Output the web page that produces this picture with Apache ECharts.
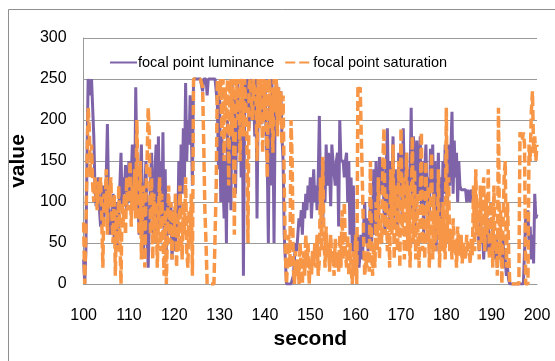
<!DOCTYPE html>
<html>
<head>
<meta charset="utf-8">
<script src="https://cdn.jsdelivr.net/npm/echarts@6/dist/echarts.min.js"></script>
<style>
  html, body { margin: 0; padding: 0; background: #ffffff; }
  #chart { width: 555px; height: 361px; }
</style>
</head>
<body>
<div id="chart"></div>
<script>
// Sampling of the recording: one reading every quarter second from 100 s to 200 s
const startSecond = 100;
const sampleStep = 0.25;

const seriesNames = ['focal point luminance', 'focal point saturation'];
const xTicks = [100, 110, 120, 130, 140, 150, 160, 170, 180, 190, 200];
const yTicks = [0, 50, 100, 150, 200, 250, 300];

// focal point luminance, four readings per second
const luminance = [
  30, 0, 40, 150,      // 100
  250, 250, 230, 250,  // 101
  250, 180, 120, 95,   // 102
  110, 130, 90, 70,    // 103
  100, 120, 80, 105,   // 104
  130, 195, 110, 60,   // 105
  90, 70, 110, 50,     // 106
  100, 60, 40, 85,     // 107
  120, 160, 95, 130,   // 108
  110, 145, 90, 120,   // 109
  150, 100, 130, 170,  // 110
  120, 90, 240, 150,   // 111
  100, 60, 130, 170,   // 112
  80, 40, 110, 150,    // 113
  60, 20, 80, 120,     // 114
  160, 90, 50, 140,    // 115
  170, 60, 180, 100,   // 116
  150, 70, 185, 60,    // 117
  140, 40, 110, 80,    // 118
  60, 100, 30, 70,     // 119
  90, 40, 110, 60,     // 120
  150, 80, 170, 110,   // 121
  190, 130, 245, 150,  // 122
  200, 170, 230, 190,  // 123
  120, 250, 250, 250,  // 124
  250, 250, 250, 250,  // 125
  250, 235, 250, 250,  // 126
  250, 230, 250, 250,  // 127
  250, 250, 250, 250,  // 128
  250, 250, 220, 140,  // 129
  230, 100, 180, 120,  // 130
  80, 150, 50, 200,    // 131
  100, 170, 90, 250,   // 132
  150, 230, 110, 190,  // 133
  250, 160, 220, 130,  // 134
  240, 10, 200, 250,   // 135
  220, 250, 190, 240,  // 136
  250, 200, 230, 180,  // 137
  250, 80, 220, 200,   // 138
  250, 195, 240, 210,  // 139
  250, 180, 150, 50,   // 140
  230, 120, 250, 200,  // 141
  50, 210, 250, 230,   // 142
  240, 200, 235, 180,  // 143
  150, 60, 30, 0,      // 144
  0, 0, 0, 0,          // 145
  0, 10, 30, 50,       // 146
  40, 60, 80, 70,      // 147
  90, 60, 100, 80,     // 148
  110, 90, 120, 100,   // 149
  130, 80, 110, 140,   // 150
  100, 120, 90, 130,   // 151
  205, 110, 140, 70,   // 152
  150, 100, 170, 120,  // 153
  160, 140, 95, 170,   // 154
  150, 150, 120, 150,  // 155
  160, 70, 200, 150,   // 156
  150, 150, 130, 150,  // 157
  160, 100, 150, 60,   // 158
  130, 40, 120, 20,    // 159
  50, 30, 60, 20,      // 160
  40, 60, 30, 70,      // 161
  100, 50, 80, 40,     // 162
  60, 100, 50, 80,     // 163
  140, 60, 150, 100,   // 164
  70, 155, 110, 130,   // 165
  150, 90, 60, 140,    // 166
  190, 110, 70, 150,   // 167
  120, 180, 80, 140,   // 168
  100, 60, 160, 120,   // 169
  170, 80, 190, 130,   // 170
  100, 160, 60, 140,   // 171
  120, 215, 90, 180,   // 172
  150, 70, 175, 110,   // 173
  130, 180, 90, 150,   // 174
  60, 140, 170, 100,   // 175
  130, 80, 165, 120,   // 176
  170, 90, 150, 40,    // 177
  110, 160, 80, 130,   // 178
  60, 150, 110, 170,   // 179
  140, 90, 170, 120,   // 180
  160, 210, 110, 175,  // 181
  130, 160, 100, 150,  // 182
  120, 115, 115, 115,  // 183
  115, 115, 100, 115,  // 184
  115, 100, 115, 110,  // 185
  100, 90, 95, 60,     // 186
  70, 40, 80, 50,      // 187
  60, 30, 70, 40,      // 188
  50, 80, 35, 60,      // 189
  40, 70, 30, 50,      // 190
  60, 20, 45, 30,      // 191
  50, 25, 60, 20,      // 192
  30, 10, 20, 5,       // 193
  0, 0, 0, 0,          // 194
  0, 0, 0, 0,          // 195
  0, 0, 0, 0,          // 196
  0, 40, 80, 60,       // 197
  90, 50, 70, 30,      // 198
  60, 25, 110, 80,     // 199
  85                   // 200
];

// focal point saturation, four readings per second
const saturation = [
  75, 0, 60, 150,      // 100
  215, 190, 130, 170,  // 101
  120, 100, 130, 110,  // 102
  90, 125, 110, 130,   // 103
  80, 20, 110, 90,     // 104
  140, 60, 120, 100,   // 105
  130, 80, 50, 110,    // 106
  10, 90, 40, 120,     // 107
  60, 0, 100, 70,      // 108
  110, 60, 130, 90,    // 109
  100, 150, 70, 120,   // 110
  90, 140, 80, 200,    // 111
  110, 60, 150, 30,    // 112
  90, 120, 20, 110,    // 113
  150, 215, 180, 60,   // 114
  130, 30, 110, 50,    // 115
  100, 20, 80, 130,    // 116
  40, 110, 60, 10,     // 117
  90, 0, 70, 120,      // 118
  50, 100, 30, 90,     // 119
  60, 110, 20, 80,     // 120
  40, 120, 70, 30,     // 121
  100, 60, 130, 40,    // 122
  20, 90, 50, 110,     // 123
  10, 250, 250, 250,   // 124
  250, 250, 250, 250,  // 125
  250, 240, 170, 90,   // 126
  50, 0, 0, 0,         // 127
  0, 0, 0, 0,          // 128
  0, 120, 250, 250,    // 129
  230, 250, 180, 250,  // 130
  150, 240, 200, 250,  // 131
  120, 230, 250, 180,  // 132
  250, 60, 220, 250,   // 133
  200, 250, 150, 240,  // 134
  250, 180, 250, 220,  // 135
  190, 50, 240, 250,   // 136
  250, 200, 250, 230,  // 137
  240, 150, 250, 190,  // 138
  250, 220, 160, 250,  // 139
  200, 250, 130, 240,  // 140
  250, 190, 240, 160,  // 141
  250, 210, 250, 180,  // 142
  240, 200, 235, 170,  // 143
  230, 120, 40, 0,     // 144
  0, 60, 20, 200,      // 145
  150, 20, 0, 40,      // 146
  10, 30, 0, 50,       // 147
  20, 0, 40, 10,       // 148
  60, 20, 50, 0,       // 149
  30, 10, 40, 20,      // 150
  50, 20, 60, 10,      // 151
  30, 130, 40, 155,    // 152
  60, 20, 70, 30,      // 153
  50, 15, 60, 25,      // 154
  40, 10, 55, 20,      // 155
  35, 15, 60, 20,      // 156
  90, 30, 100, 40,     // 157
  20, 60, 10, 50,      // 158
  20, 0, 40, 10,       // 159
  60, 0, 240, 235,     // 160
  240, 180, 120, 60,   // 161
  10, 30, 20, 50,      // 162
  15, 150, 40, 10,     // 163
  50, 20, 100, 40,     // 164
  130, 30, 80, 50,     // 165
  150, 190, 60, 110,   // 166
  40, 90, 20, 140,     // 167
  60, 170, 30, 120,    // 168
  80, 40, 150, 20,     // 169
  190, 60, 130, 30,    // 170
  100, 160, 40, 120,   // 171
  20, 80, 180, 50,     // 172
  140, 30, 110, 60,    // 173
  20, 100, 185, 40,    // 174
  90, 30, 150, 50,     // 175
  120, 20, 80, 160,    // 176
  30, 110, 40, 90,     // 177
  60, 140, 20, 80,     // 178
  40, 100, 60, 30,     // 179
  215, 50, 130, 40,    // 180
  60, 30, 80, 45,      // 181
  50, 20, 70, 40,      // 182
  35, 60, 25, 50,      // 183
  45, 30, 60, 40,      // 184
  50, 25, 55, 35,      // 185
  120, 40, 140, 60,    // 186
  100, 30, 120, 50,    // 187
  90, 130, 40, 110,    // 188
  60, 140, 30, 100,    // 189
  80, 20, 120, 40,     // 190
  60, 10, 215, 30,     // 191
  90, 0, 70, 130,      // 192
  150, 20, 100, 40,    // 193
  0, 0, 0, 0,          // 194
  0, 0, 0, 0,          // 195
  0, 185, 180, 175,    // 196
  185, 170, 0, 0,      // 197
  0, 170, 150, 210,    // 198
  235, 160, 180, 150,  // 199
  170                  // 200
];

const colors = ['#7f63a8', '#f79646'];
const fontFamily = '"Liberation Sans", Arial, sans-serif';

function pairs(values) {
  return values.map((v, i) => [startSecond + i * sampleStep, v]);
}

const chart = echarts.init(document.getElementById('chart'), null, { renderer: 'canvas' });

chart.setOption({
  animation: false,
  backgroundColor: '#ffffff',
  color: colors,
  graphic: [{
    type: 'rect',
    silent: true,
    z: -10,
    shape: { x: 8.5, y: 9.5, width: 600, height: 400 },
    style: { fill: 'none', stroke: '#8f8f8f', lineWidth: 1 }
  }],
  legend: {
    left: 104,
    top: 50,
    itemWidth: 27,
    itemHeight: 14,
    itemGap: 10,
    data: seriesNames,
    itemStyle: { opacity: 0 },
    textStyle: { fontFamily: fontFamily, fontSize: 14.5, color: '#000000', padding: [0, 0, 0, -4] }
  },
  grid: { left: 77, right: 18, top: 38, bottom: 77, containLabel: false },
  xAxis: {
    type: 'value',
    min: xTicks[0],
    max: xTicks[xTicks.length - 1],
    interval: xTicks[1] - xTicks[0],
    name: 'second',
    nameLocation: 'middle',
    nameGap: 45,
    nameTextStyle: { fontFamily: fontFamily, fontSize: 21, fontWeight: 'bold', color: '#000000' },
    axisLine: { show: true, lineStyle: { color: '#9a9a9a', width: 1 } },
    axisTick: { show: false },
    splitLine: { show: false },
    axisLabel: { fontFamily: fontFamily, fontSize: 16, color: '#000000', margin: 24 }
  },
  yAxis: {
    type: 'value',
    min: yTicks[0],
    max: yTicks[yTicks.length - 1],
    interval: yTicks[1] - yTicks[0],
    name: 'value',
    nameLocation: 'middle',
    nameGap: 46,
    nameRotate: 90,
    nameTextStyle: { fontFamily: fontFamily, fontSize: 21, fontWeight: 'bold', color: '#000000' },
    axisLine: { show: true, lineStyle: { color: '#9a9a9a', width: 1 } },
    axisTick: { show: false },
    splitLine: { show: true, lineStyle: { color: '#9a9a9a', width: 1 } },
    axisLabel: { fontFamily: fontFamily, fontSize: 16, color: '#000000', margin: 17 }
  },
  series: [
    {
      name: seriesNames[0],
      type: 'line',
      symbol: 'none',
      data: pairs(luminance),
      lineStyle: { color: colors[0], width: 3 }
    },
    {
      name: seriesNames[1],
      type: 'line',
      symbol: 'none',
      data: pairs(saturation),
      lineStyle: { color: colors[1], width: 3.5, type: [10, 4] }
    }
  ]
});
</script>
</body>
</html>
